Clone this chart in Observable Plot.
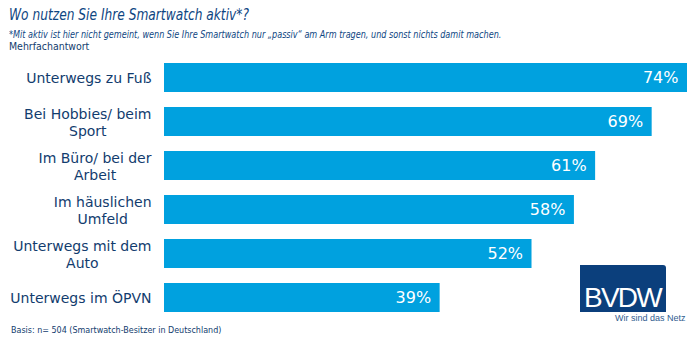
<!DOCTYPE html>
<html><head><meta charset="utf-8">
<script src="https://cdn.jsdelivr.net/npm/d3@7"></script>
<script src="https://cdn.jsdelivr.net/npm/@observablehq/plot@0.6"></script>
<style>
body{margin:0;background:#fff;}
#wrap{position:relative;width:697px;height:341px;overflow:hidden;font-family:"DejaVu Sans",Verdana,sans-serif;}
#wrap svg{position:absolute;left:0;top:0;}
.t{position:absolute;left:9px;white-space:nowrap;color:#0e4682;transform-origin:0 0;}
#title{top:6px;font-size:15px;font-style:italic;transform:scaleX(0.815);}
#sub{top:29px;font-size:10px;font-style:italic;transform:scaleX(0.81);}
#mehr{top:41px;font-size:10px;transform:scaleX(0.94);color:#123c6e;}
#cap{top:326px;font-size:8px;color:#123c6e;left:11px;}
#logo{position:absolute;left:580px;top:265px;width:86px;height:47px;background:#0b3f7c;border-top-right-radius:3px;}
#logo span{position:absolute;left:4px;bottom:-2px;color:#fff;font-family:"Liberation Sans",sans-serif;font-size:28px;letter-spacing:-1.8px;}
#slog{position:absolute;left:615px;top:313px;font-size:9px;color:#2f5c8f;font-family:"Liberation Sans",sans-serif;}
</style></head>
<body><div id="wrap">
<div class="t" id="title">Wo nutzen Sie Ihre Smartwatch aktiv*?</div>
<div class="t" id="sub">*Mit aktiv ist hier nicht gemeint, wenn Sie Ihre Smartwatch nur „passiv“ am Arm tragen, und sonst nichts damit machen.</div>
<div class="t" id="mehr">Mehrfachantwort</div>
<div class="t" id="cap">Basis: n= 504 (Smartwatch-Besitzer in Deutschland)</div>
<div id="logo"><span>BVDW</span></div>
<div id="slog">Wir sind das Netz</div>
</div>
<script>
const categories = ["Unterwegs zu Fuß","Bei Hobbies/ beim\nSport","Im Büro/ bei der\nArbeit","Im häuslichen\nUmfeld","Unterwegs mit dem\nAuto","Unterwegs im ÖPVN"];
const values = [74,69,61,58,52,39];
const labels = ["74%","69%","61%","58%","52%","39%"];
const data = categories.map((c,i)=>({cat:c,v:values[i],lab:labels[i]}));
const chart = Plot.plot({
  width:697, height:341,
  marginLeft:164, marginRight:10, marginTop:61, marginBottom:27,
  style:{fontFamily:"DejaVu Sans, Verdana, sans-serif", background:"transparent"},
  x:{domain:[0,74], axis:null},
  y:{domain:categories, paddingInner:0.335, paddingOuter:0, label:null},
  marks:[
    Plot.barX(data,{x:"v", y:"cat", fill:"#00a1df"}),
    Plot.text(data,{x:"v", y:"cat", text:"lab", textAnchor:"end", dx:-9, fill:"#fff", fontSize:16}),
    Plot.axisY({tickSize:0, tickPadding:13, fontSize:14, fill:"#123c6e", lineHeight:1.2, label:null})
  ]
});
document.getElementById("wrap").prepend(chart);
// center multi-line labels within their right-aligned block
chart.querySelectorAll('g[aria-label="y-axis tick label"] text').forEach(t => {
  const spans = t.querySelectorAll("tspan");
  if (spans.length < 2) return;
  let w = 0;
  spans.forEach(s => { w = Math.max(w, s.getComputedTextLength()); });
  t.setAttribute("text-anchor", "middle");
  spans.forEach(s => s.setAttribute("x", -w / 2));
});
</script>
</body></html>
